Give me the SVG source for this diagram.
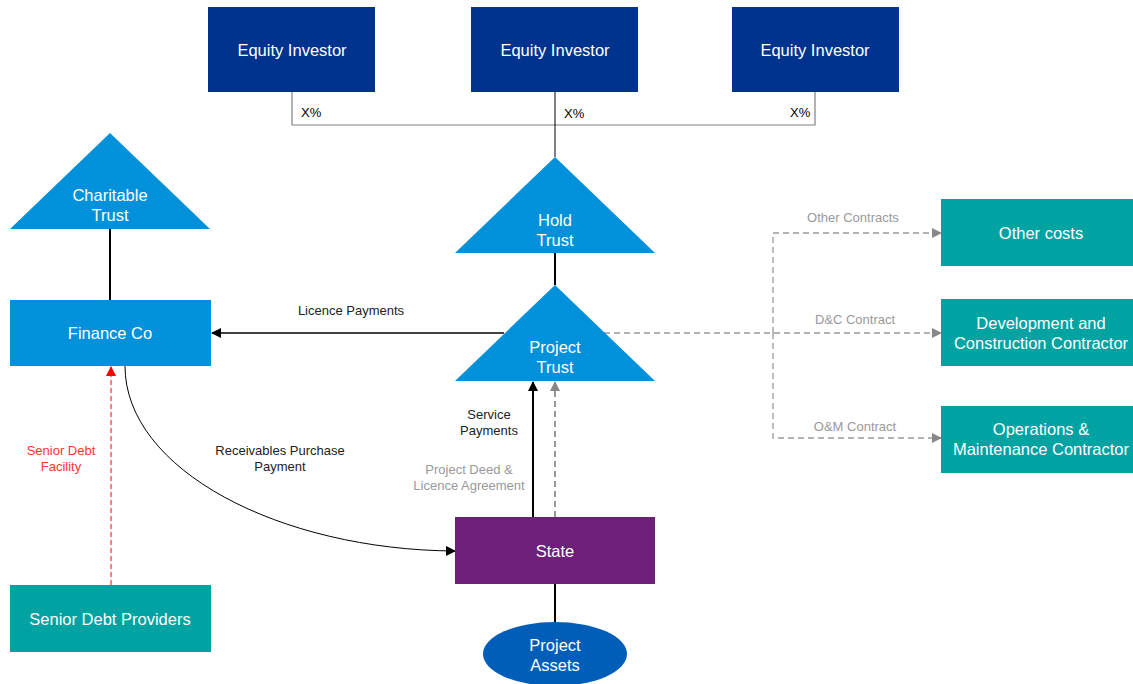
<svg xmlns="http://www.w3.org/2000/svg" width="1133" height="684" viewBox="0 0 1133 684">
<style>
text{font-family:"Liberation Sans",Arial,sans-serif}
.nt{fill:#fff;font-size:16.5px;text-anchor:middle}
.lb{font-size:13px;text-anchor:middle;fill:#222}
.gl{font-size:13px;text-anchor:middle;fill:#999}
.inv{fill:#00338D}
.tri{fill:#0091DA}
.teal{fill:#00A3A1}
.dash{stroke:#999;stroke-width:1.3;stroke-dasharray:6,4;fill:none}
</style>
<defs>
<marker id="ab" viewBox="0 0 10 10" refX="9" refY="5" markerWidth="10" markerHeight="10" markerUnits="userSpaceOnUse" orient="auto"><path d="M0,0L10,5L0,10z" fill="#000"/></marker>
<marker id="ag" viewBox="0 0 10 10" refX="9" refY="5" markerWidth="10" markerHeight="10" markerUnits="userSpaceOnUse" orient="auto"><path d="M0,0L10,5L0,10z" fill="#888"/></marker>
<marker id="ar" viewBox="0 0 10 10" refX="9" refY="5" markerWidth="10" markerHeight="10" markerUnits="userSpaceOnUse" orient="auto"><path d="M0,0L10,5L0,10z" fill="#f00"/></marker>
</defs>
<rect width="1133" height="684" fill="#fff"/>
<g id="connectors" fill="none">
<path d="M292,92V125H815V92" stroke="#808080" stroke-width="1.2"/>
<path d="M555,92V157" stroke="#000" stroke-width="1"/>
<path d="M110,229V300" stroke="#000" stroke-width="2"/>
<path d="M555,253V285" stroke="#000" stroke-width="2"/>
<path d="M504,333H212" stroke="#000" stroke-width="1.6" marker-end="url(#ab)"/>
<path class="dash" d="M604,333H941" marker-end="url(#ag)"/>
<path class="dash" d="M773,333V233H941" marker-end="url(#ag)"/>
<path class="dash" d="M773,333V438H941" marker-end="url(#ag)"/>
<path d="M533,517V382" stroke="#000" stroke-width="2" marker-end="url(#ab)"/>
<path d="M555,517V382" stroke="#999" stroke-width="2" stroke-dasharray="6,4" marker-end="url(#ag)"/>
<path d="M555,584V622" stroke="#000" stroke-width="2"/>
<path d="M111,585V367" stroke="#f00" stroke-width="1" stroke-dasharray="5,3" marker-end="url(#ar)"/>
<path d="M125,366C125,470 280,550 455,551" stroke="#000" stroke-width="1" marker-end="url(#ab)"/>
<text x="301" y="117" font-size="13" fill="#000">X%</text>
<text x="564" y="118" font-size="13" fill="#000">X%</text>
<text x="790" y="117" font-size="13" fill="#000">X%</text>
<text class="lb" x="351" y="315">Licence Payments</text>
<text class="gl" x="853" y="222">Other Contracts</text>
<text class="gl" x="855" y="324">D&amp;C Contract</text>
<text class="gl" x="855" y="431">O&amp;M Contract</text>
<text class="lb" x="489" y="419">Service</text>
<text class="lb" x="489" y="435">Payments</text>
<text class="gl" x="469" y="474">Project Deed &amp;</text>
<text class="gl" x="469" y="490">Licence Agreement</text>
<text class="lb" x="61" y="455" style="fill:#f33">Senior Debt</text>
<text class="lb" x="61" y="471" style="fill:#f33">Facility</text>
<text class="lb" x="280" y="455">Receivables Purchase</text>
<text class="lb" x="280" y="471">Payment</text>
</g>
<g id="inv1"><rect class="inv" x="208" y="7" width="167" height="85"/><text class="nt" x="292" y="56">Equity Investor</text></g>
<g id="inv2"><rect class="inv" x="471" y="7" width="167" height="85"/><text class="nt" x="555" y="56">Equity Investor</text></g>
<g id="inv3"><rect class="inv" x="732" y="7" width="167" height="85"/><text class="nt" x="815" y="56">Equity Investor</text></g>
<g id="charitable"><polygon class="tri" points="110,133 210,229 10,229"/><text class="nt" x="110" y="201">Charitable</text><text class="nt" x="110" y="221">Trust</text></g>
<g id="financeco"><rect class="tri" x="10" y="300" width="201" height="66"/><text class="nt" x="110" y="339">Finance Co</text></g>
<g id="hold"><polygon class="tri" points="555,157 655,253 455,253"/><text class="nt" x="555" y="226">Hold</text><text class="nt" x="555" y="246">Trust</text></g>
<g id="project"><polygon class="tri" points="555,285 655,381 455,381"/><text class="nt" x="555" y="353">Project</text><text class="nt" x="555" y="373">Trust</text></g>
<g id="other"><rect class="teal" x="941" y="199" width="192" height="67"/><text class="nt" x="1041" y="239">Other costs</text></g>
<g id="dc"><rect class="teal" x="941" y="299" width="192" height="67"/><text class="nt" x="1041" y="329">Development and</text><text class="nt" x="1041" y="349">Construction Contractor</text></g>
<g id="om"><rect class="teal" x="941" y="406" width="192" height="67"/><text class="nt" x="1041" y="435">Operations &amp;</text><text class="nt" x="1041" y="455">Maintenance Contractor</text></g>
<g id="state"><rect x="455" y="517" width="200" height="67" fill="#6D2077"/><text class="nt" x="555" y="557">State</text></g>
<g id="assets"><ellipse cx="555" cy="654" rx="72" ry="32" fill="#005EB8"/><text class="nt" x="555" y="651">Project</text><text class="nt" x="555" y="671">Assets</text></g>
<g id="seniordebt"><rect class="teal" x="10" y="585" width="201" height="67"/><text class="nt" x="110" y="625">Senior Debt Providers</text></g>
</svg>
